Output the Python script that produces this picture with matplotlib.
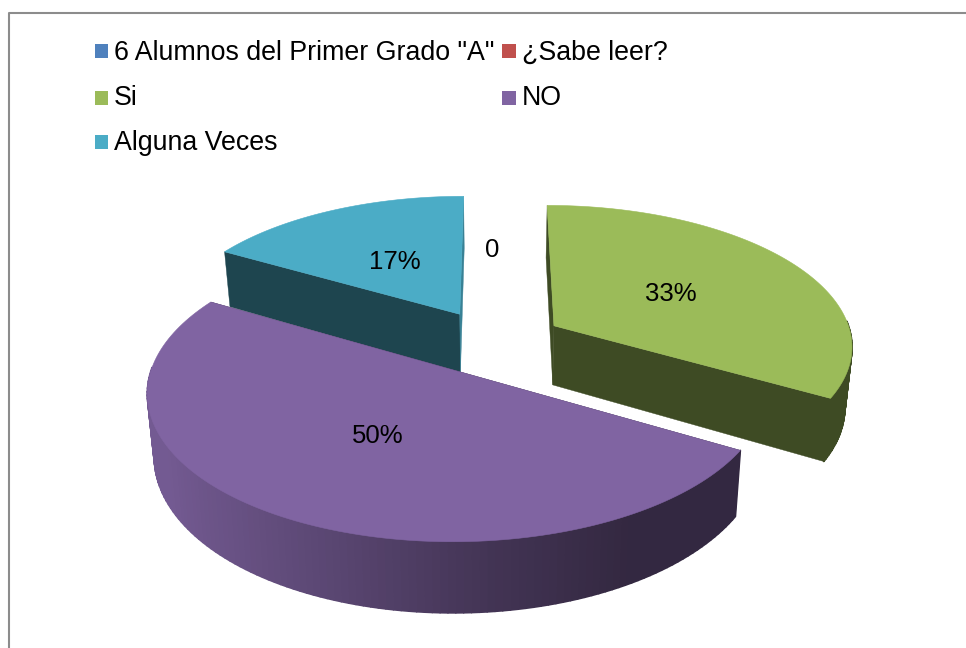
import matplotlib
matplotlib.use('Agg')
import matplotlib.pyplot as plt
import numpy as np
from matplotlib.patches import Polygon, Rectangle

# data
categories = ['6 Alumnos del Primer Grado "A"', '¿Sabe leer?', 'Si', 'NO', 'Alguna Veces']
values = [0, 0, 2, 3, 1]
colors = ['#4f81bd', '#c0504d', '#9bbb59', '#8064a2', '#4bacc6']

# pie geometry, in pixels of the 966x648 picture
cx, cy = 494, 342
rx, ry = 299, 140
depth = 60
persp = 0.13
shrink = 0.02
explode = 0.235

plt.rcParams['font.family'] = ['Liberation Sans', 'DejaVu Sans']

fig = plt.figure(figsize=(9.66, 6.48), dpi=100)
ax = fig.add_axes([0, 0, 1, 1])
ax.set_xlim(0, 966)
ax.set_ylim(648, 0)
ax.axis('off')


def project(X, Y, z=0.0):
    s = 1 / (1 - persp * Y)
    x = cx + rx * X * s * (1 - shrink * z)
    y = cy + ry * Y * s + depth * s * z
    return x, y


def unit(a):
    # angle clockwise from 12 o'clock, Y points to the viewer
    return np.sin(a), -np.cos(a)


def wall_shade(X):
    return np.interp(X, [-1, -0.5, 0, 0.4, 1], [0.9, 0.72, 0.52, 0.4, 0.4])


def dark(color, f):
    return tuple(np.array(matplotlib.colors.to_rgb(color)) * f)


# outer border of the chart area
ax.plot([8.5, 8.5, 966], [648, 12.5, 12.5], color='#8c8c8c', lw=1.5, zorder=1)

total = sum(values)
angles = np.cumsum([0] + values) / total * 2 * np.pi
slice_order = [4, 2, 3]  # back to front

for i in slice_order:
    a0, a1 = angles[i], angles[i + 1]
    mid = (a0 + a1) / 2
    ex, ey = unit(mid)
    ox, oy = ex * explode, ey * explode
    t = np.linspace(a0, a1, 140)
    ux, uy = unit(t)
    X, Y = ox + ux, oy + uy

    # cut faces
    for a, f in [(a0, 0.4), (a1, 0.75 if a1 > 6.2 else 0.4)]:
        px, py = unit(a)
        pts = [project(ox, oy), project(ox + px, oy + py),
               project(ox + px, oy + py, 1), project(ox, oy, 1)]
        ax.add_patch(Polygon(pts, closed=True, fc=dark(colors[i], f),
                             ec=dark(colors[i], f), lw=0.3, zorder=3))

    # outer wall as strips for the shading, wide edges hide the seams
    for j in range(len(t) - 1):
        if uy[j] < -0.02 and uy[j + 1] < -0.02:
            continue
        f = wall_shade(X[j])
        pts = [project(X[j], Y[j]), project(X[j + 1], Y[j + 1]),
               project(X[j + 1], Y[j + 1], 1), project(X[j], Y[j], 1)]
        ax.add_patch(Polygon(pts, closed=True, fc=dark(colors[i], f),
                             ec=dark(colors[i], f), lw=1.2, joinstyle='round', zorder=3))

    # top surface
    tx, ty = project(X, Y)
    ax0, ay0 = project(ox, oy)
    ax.add_patch(Polygon(np.column_stack([np.r_[ax0, tx], np.r_[ay0, ty]]), closed=True,
                         fc=colors[i], ec=colors[i], lw=0.4, zorder=3))

    # value label
    lx, ly = project(ox + ex * 0.48, oy + ey * 0.48)
    ax.text(lx, ly, f'{round(values[i] / total * 100)}%', fontsize=18.5,
            ha='center', va='center', color='black', zorder=5)

# zero slices share one label at the top
zx, zy = unit(0)
lx, ly = project(zx * (explode + 0.5), zy * (explode + 0.5))
ax.text(lx - 2, ly + 2, '0', fontsize=18.5, ha='center', va='center', color='black', zorder=5)

# legend
leg_x = [94.5, 502, 94.5, 502, 94.5]
leg_y = [51, 51, 97.5, 97.5, 142]
leg_base = [60, 60, 105, 105, 150]
leg_text_x = [114, 522, 114, 522, 114]
for name, c, x, y, tx0, by in zip(categories, colors, leg_x, leg_y, leg_text_x, leg_base):
    ax.add_patch(Rectangle((x, y - 7), 13.5, 14, fc=c, ec='none', zorder=4))
    ax.text(tx0, by, name, fontsize=19.3, ha='left', va='baseline', color='black', zorder=5)

fig.savefig('out.png', dpi=100)
